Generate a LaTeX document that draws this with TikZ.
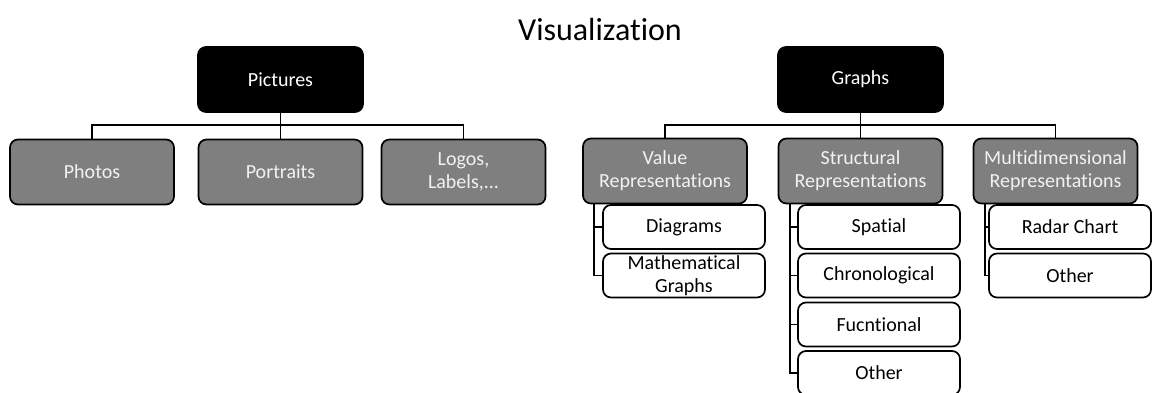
\documentclass[tikz,border=0pt]{standalone}
\usepackage{fontspec}
\setmainfont{Carlito}[Ligatures=NoCommon]
\definecolor{midgray}{HTML}{7F7F7F}
\begin{document}
\begin{tikzpicture}[x=1pt,y=-1pt,
  box/.style={rounded corners=8pt, draw=black, line width=1.7pt, align=center,
    inner sep=0pt, font=\fontsize{20}{23}\selectfont},
  topbox/.style={box, fill=black, text=white, minimum width=165pt, minimum height=65pt},
  midbox/.style={box, fill=midgray, text=white!95!black, minimum width=164pt, minimum height=65pt},
  leafbox/.style={box, fill=white, text=black, minimum width=162pt, minimum height=44pt},
  conn/.style={draw=black, line width=1.7pt}]
\useasboundingbox (0,0) rectangle (1152,392);
\node[anchor=base, font=\fontsize{32}{36}\selectfont] (title) at (600,40) {Visualization};

% Pictures branch
\node[topbox] (pic) at (280.5,79.5) {Pictures};
\node[midbox] (photos) at (92,172) {Photos};
\node[midbox] (portraits) at (280.5,172) {Portraits};
\node[midbox] (logos) at (463.5,172) {Logos,\\Labels,...};
\coordinate (pbus) at (280.5,125);
\draw[conn] (photos.north) |- (pbus) -| (logos.north);
\draw[conn] (pic.south) -- (portraits.north);

% Graphs branch
\node[topbox] (graphs) at (860.5,79.5) {Graphs};
\node[midbox] (value) at (665,171) {Value\\Representations};
\node[midbox] (struct) at (860.5,171) {Structural\\Representations};
\node[midbox] (multi) at (1055.5,171) {Multidimensional\\Representations};
\coordinate (gbus) at (860.5,125);
\draw[conn] (value.north) |- (gbus) -| (multi.north);
\draw[conn] (graphs.south) -- (struct.north);

% Value leaves
\node[leafbox] (diag) at (684,227) {Diagrams};
\node[leafbox] (math) at (684,275.5) {Mathematical\\Graphs};
\coordinate (vb) at ([xshift=12pt]value.south west);
\draw[conn] (vb) |- (math.west);
\draw[conn] (vb |- diag.west) -- (diag.west);

% Structural leaves
\node[leafbox] (spatial) at (879,227) {Spatial};
\node[leafbox] (chrono) at (879,275.5) {Chronological};
\node[leafbox] (func) at (879,324.5) {Fucntional};
\node[leafbox] (sother) at (879,373) {Other};
\coordinate (sb) at ([xshift=12pt]struct.south west);
\draw[conn] (sb) |- (sother.west);
\draw[conn] (sb |- spatial.west) -- (spatial.west);
\draw[conn] (sb |- chrono.west) -- (chrono.west);
\draw[conn] (sb |- func.west) -- (func.west);

% Multidimensional leaves
\node[leafbox] (radar) at (1070,227) {Radar Chart};
\node[leafbox] (mother) at (1070,275.5) {Other};
\coordinate (mb) at ([xshift=12pt]multi.south west);
\draw[conn] (mb) |- (mother.west);
\draw[conn] (mb |- radar.west) -- (radar.west);
\end{tikzpicture}
\end{document}
